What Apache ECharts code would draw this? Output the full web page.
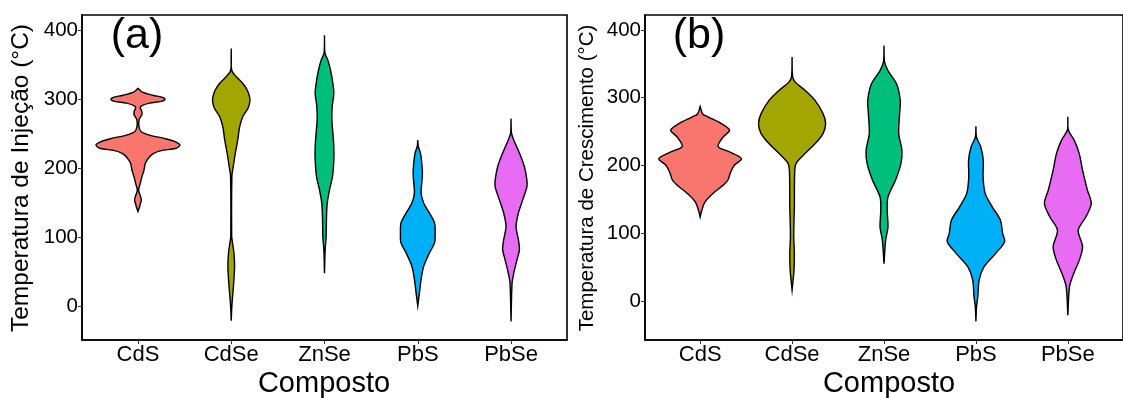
<!DOCTYPE html>
<html>
<head>
<meta charset="utf-8">
<script src="https://cdn.jsdelivr.net/npm/echarts@6/dist/echarts.min.js"></script>
<style>
html,body{margin:0;padding:0;background:#fff;}
#chart{width:1123px;height:398px;}
</style>
</head>
<body>
<div id="chart"></div>
<script>
const categories = ['CdS', 'CdSe', 'ZnSe', 'PbS', 'PbSe'];
const colors = ['#F8766D', '#A3A500', '#00BF7D', '#00B0F6', '#E76BF3'];
const yTicks = [0, 100, 200, 300, 400];
const xTicks = [1, 2, 3, 4, 5];
const titleA = 'Temperatura de Injeção (°C)';
const titleB = 'Temperatura de Crescimento (°C)';
const xTitle = 'Composto';

// Violin profiles: [temperature, half-width (category units)], top to bottom
// (a) Injection temperature
const injCdS = [[316,0],[311,0.043],[306,0.16],[302.6,0.27],[300,0.29],[297,0.25],[294.6,0.125],[291,0.043],[288,0.025],[283,0.04],[278,0.043],[274,0.025],[270,0.011],[260,0.011],[253,0.036],[248,0.125],[243,0.29],[239,0.39],[234,0.45],[229,0.41],[225.5,0.25],[221.6,0.17],[216.7,0.125],[207,0.079],[197,0.064],[187.7,0.043],[178,0.025],[168,0.007],[160,0.025],[154,0.036],[148,0.025],[144,0.018],[137,0]];
const injCdSe = [[374,0],[342.5,0.005],[333,0.054],[323,0.125],[314,0.17],[304,0.196],[297,0.2],[287,0.18],[275,0.125],[260,0.09],[241,0.07],[221,0.043],[202,0.021],[188,0.007],[101,0.005],[91.6,0.014],[77,0.029],[57.9,0.036],[38.5,0.029],[19,0.018],[0,0.007],[-21.5,0]];
const injZnSe = [[393,0],[367,0.005],[357,0.036],[342.6,0.064],[323,0.09],[308.6,0.1],[289,0.082],[270,0.079],[251,0.09],[231.5,0.1],[212,0.1],[188,0.086],[168.6,0.054],[149,0.029],[125,0.021],[101,0.018],[81.7,0.007],[47.4,0]];
const injPbS = [[241,0],[231.5,0.006],[222,0.029],[207.5,0.043],[193,0.05],[178.5,0.043],[164,0.036],[149,0.064],[135,0.125],[120.5,0.18],[106,0.186],[91.6,0.18],[77,0.125],[57.9,0.064],[38.5,0.036],[19,0.018],[0,0]];
const injPbSe = [[272,0],[251,0.005],[241,0.029],[222,0.09],[202.5,0.143],[183,0.17],[173,0.17],[154,0.125],[135,0.079],[115.5,0.054],[96,0.079],[81.7,0.09],[67,0.064],[47.4,0.029],[33,0.011],[-22.5,0]];

// (b) Growth temperature
const groCdS = [[287,0],[276,0.028],[271.5,0.09],[261.8,0.23],[252,0.32],[242,0.25],[228,0.195],[220,0.32],[210,0.45],[200,0.37],[188,0.326],[178,0.3],[168.6,0.23],[158.8,0.14],[146.2,0.053],[133.8,0.018],[124,0]];
const groCdSe = [[360,0],[330.6,0.006],[323,0.035],[311,0.14],[296,0.25],[276.5,0.337],[261.8,0.365],[247,0.337],[232,0.25],[217.5,0.14],[202.8,0.043],[188,0.028],[139,0.025],[119.5,0.021],[94.8,0.018],[70,0.025],[45.5,0.021],[30.7,0.011],[16,0]];
const groZnSe = [[377,0],[352.7,0.006],[340,0.043],[320.8,0.135],[296,0.177],[276.5,0.17],[247,0.16],[222.4,0.195],[202.8,0.184],[178,0.124],[153.5,0.043],[133.8,0.035],[109,0.043],[89.6,0.018],[55,0]];
const groPbS = [[257.8,0],[242,0.006],[227.3,0.053],[207.6,0.08],[183,0.078],[158.8,0.1],[139,0.177],[119.5,0.266],[99.8,0.29],[87.6,0.312],[70,0.213],[50.7,0.089],[31,0.035],[6.5,0.021],[-8,0.007],[-30,0]];
const groPbSe = [[272,0],[251.9,0.006],[237,0.07],[217.5,0.124],[193,0.16],[163.5,0.213],[143.8,0.255],[124,0.195],[104.4,0.113],[80,0.16],[60,0.124],[40.7,0.064],[21,0.018],[-21,0]];

const profilesA = [injCdS, injCdSe, injZnSe, injPbS, injPbSe];
const profilesB = [groCdS, groCdSe, groZnSe, groPbS, groPbSe];

const FONT = 'Liberation Sans';

function violinRenderer(profiles) {
  return function (params, api) {
    const idx = api.value(0);
    const prof = profiles[idx];
    const cx = idx + 1;
    const right = prof.map(p => api.coord([cx + p[1], p[0]]));
    const left = prof.slice().reverse().map(p => api.coord([cx - p[1], p[0]]));
    return {
      type: 'polygon',
      shape: { points: right.concat(left), smooth: 0.3 },
      style: { fill: colors[idx], stroke: '#000', lineWidth: 1.4 }
    };
  };
}

function xAxisFor(gridIndex) {
  return {
    type: 'value', gridIndex: gridIndex, min: 0.4, max: 5.6,
    splitLine: { show: false },
    axisLine: { show: true, onZero: false, lineStyle: { color: '#000', width: 1.6 } },
    axisTick: { show: true, customValues: xTicks, length: 4, lineStyle: { color: '#333', width: 1 } },
    axisLabel: { customValues: xTicks, formatter: v => categories[Math.round(v) - 1], color: '#000', fontSize: 22, fontFamily: FONT, margin: 4 }
  };
}
function yAxisFor(gridIndex, min, max) {
  return {
    type: 'value', gridIndex: gridIndex, min: min, max: max,
    splitLine: { show: false },
    axisLine: { show: true, onZero: false, lineStyle: { color: '#000', width: 1.6 } },
    axisTick: { show: true, customValues: yTicks, length: 4, lineStyle: { color: '#333', width: 1 } },
    axisLabel: { customValues: yTicks, color: '#000', fontSize: 20.5, fontFamily: FONT, margin: 4 }
  };
}

const chart = echarts.init(document.getElementById('chart'), null, { renderer: 'canvas' });
chart.setOption({
  backgroundColor: '#fff',
  animation: false,
  grid: [
    { left: 82, right: 556, top: 15, bottom: 58, show: true, borderColor: '#000', borderWidth: 1.6, backgroundColor: 'transparent' },
    { left: 645, right: -11, top: 15, bottom: 58, show: true, borderColor: '#000', borderWidth: 1.6, backgroundColor: 'transparent' }
  ],
  xAxis: [xAxisFor(0), xAxisFor(1)],
  yAxis: [yAxisFor(0, -49.5, 422.5), yAxisFor(1, -57.5, 422)],
  series: [
    { type: 'custom', xAxisIndex: 0, yAxisIndex: 0, renderItem: violinRenderer(profilesA), data: [[0], [1], [2], [3], [4]], encode: { x: -1, y: -1 }, clip: false },
    { type: 'custom', xAxisIndex: 1, yAxisIndex: 1, renderItem: violinRenderer(profilesB), data: [[0], [1], [2], [3], [4]], encode: { x: -1, y: -1 }, clip: false }
  ],
  graphic: [
    { type: 'text', x: 21, y: 178, rotation: Math.PI / 2, style: { text: titleA, font: '24.5px "Liberation Sans"', fill: '#000', textAlign: 'center', textVerticalAlign: 'middle' } },
    { type: 'text', x: 587, y: 178, rotation: Math.PI / 2, style: { text: titleB, font: '20.5px "Liberation Sans"', fill: '#000', textAlign: 'center', textVerticalAlign: 'middle' } },
    { type: 'text', x: 324, y: 384, style: { text: xTitle, font: '29px "Liberation Sans"', fill: '#000', textAlign: 'center', textVerticalAlign: 'middle' } },
    { type: 'text', x: 889, y: 384, style: { text: xTitle, font: '29px "Liberation Sans"', fill: '#000', textAlign: 'center', textVerticalAlign: 'middle' } },
    { type: 'text', x: 137, y: 36, style: { text: '(a)', font: '43px "Liberation Sans"', fill: '#000', textAlign: 'center', textVerticalAlign: 'middle' } },
    { type: 'text', x: 699, y: 36, style: { text: '(b)', font: '43px "Liberation Sans"', fill: '#000', textAlign: 'center', textVerticalAlign: 'middle' } }
  ]
});
</script>
</body>
</html>
